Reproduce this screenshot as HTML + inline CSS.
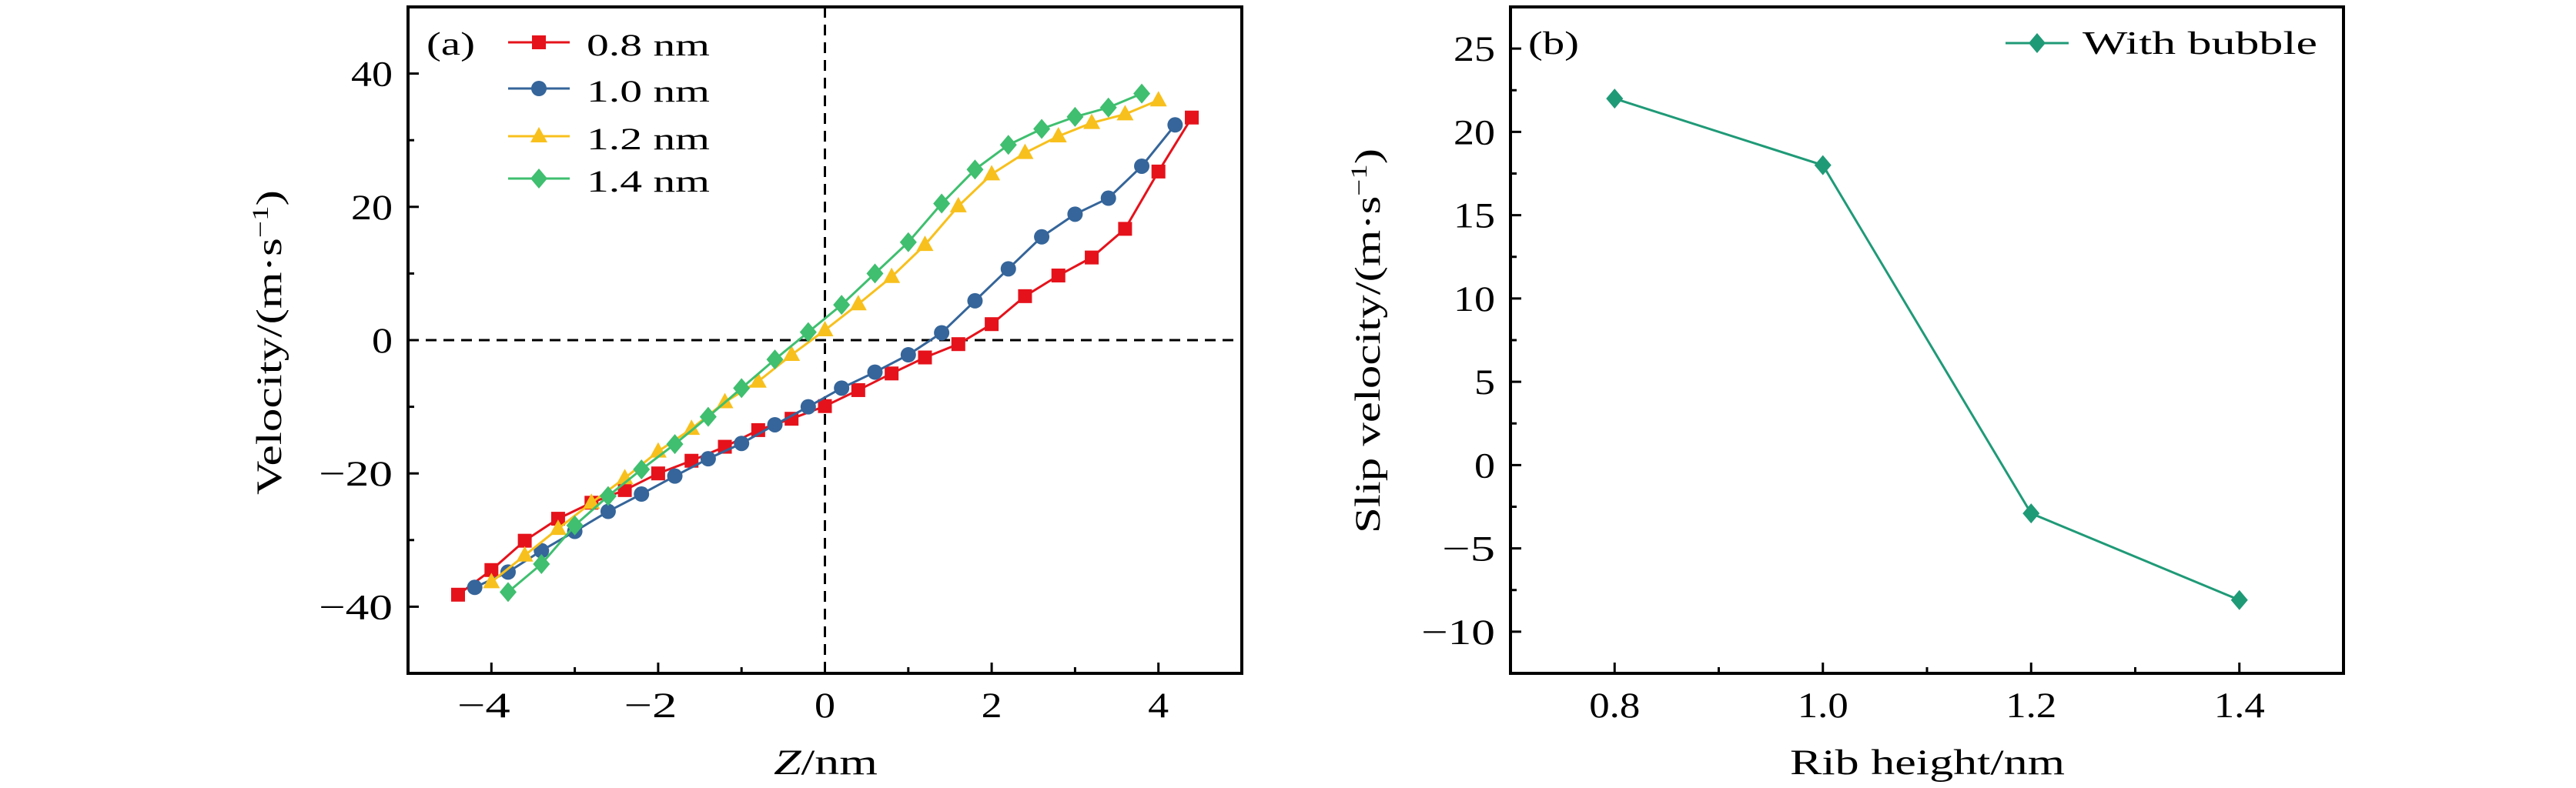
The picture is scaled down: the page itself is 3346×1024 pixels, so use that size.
<!DOCTYPE html>
<html><head><meta charset="utf-8"><style>
html,body{margin:0;padding:0;background:#fff;}
svg{display:block;font-family:"Liberation Serif",serif;}
svg text{font-family:"Liberation Serif",serif;}
</style></head><body>
<svg id="fig" width="3346" height="1024" viewBox="0 0 3346 1024" xmlns="http://www.w3.org/2000/svg">
<rect width="3346" height="1024" fill="#fff"/>
<g id="pa"></g>
<g id="pb"></g>
</svg>
<script>
// Panel (a) data
const zRed = [-4.4,-4.0,-3.6,-3.2,-2.8,-2.4,-2.0,-1.6,-1.2,-0.8,-0.4,0,0.4,0.8,1.2,1.6,2.0,2.4,2.8,3.2,3.6,4.0,4.4];
const vRed = [-38.2,-34.5,-30.1,-26.8,-24.4,-22.5,-20.0,-18.1,-16.0,-13.5,-11.8,-9.9,-7.5,-5.0,-2.6,-0.6,2.4,6.6,9.7,12.4,16.7,25.3,33.4];
const zBlue = [-4.2,-3.8,-3.4,-3.0,-2.6,-2.2,-1.8,-1.4,-1.0,-0.6,-0.2,0.2,0.6,1.0,1.4,1.8,2.2,2.6,3.0,3.4,3.8,4.2];
const vBlue = [-37.1,-34.8,-31.6,-28.7,-25.7,-23.1,-20.4,-17.8,-15.5,-12.7,-10.0,-7.2,-4.8,-2.2,1.1,5.9,10.7,15.5,18.9,21.3,26.1,32.3];
const zYellow = [-4.0,-3.6,-3.2,-2.8,-2.4,-2.0,-1.6,-1.2,-0.8,-0.4,0,0.4,0.8,1.2,1.6,2.0,2.4,2.8,3.2,3.6,4.0];
const vYellow = [-36.3,-32.3,-28.3,-24.4,-20.7,-16.7,-13.3,-9.3,-6.2,-2.2,1.5,5.4,9.5,14.3,20.1,24.9,28.1,30.6,32.6,33.9,36.0];
const zGreen = [-3.8,-3.4,-3.0,-2.6,-2.2,-1.8,-1.4,-1.0,-0.6,-0.2,0.2,0.6,1.0,1.4,1.8,2.2,2.6,3.0,3.4,3.8];
const vGreen = [-37.8,-33.6,-27.8,-23.4,-19.4,-15.6,-11.5,-7.2,-2.9,1.2,5.3,10.0,14.7,20.5,25.6,29.3,31.7,33.5,34.9,37.0];
const seriesNamesA = ["0.8 nm","1.0 nm","1.2 nm","1.4 nm"];
const xTicksA = [-4,-2,0,2,4];
const yTicksA = [-40,-20,0,20,40];
// Panel (b) data
const ribHeights = [0.8,1.0,1.2,1.4];
const slipVel = [22,18,-2.9,-8.1];
const xTicksB = [0.8,1.0,1.2,1.4];
const yTicksB = [-10,-5,0,5,10,15,20,25];

const NS="http://www.w3.org/2000/svg";
function mk(parent,tag,attrs,text){const e=document.createElementNS(NS,tag);for(const k in attrs)e.setAttribute(k,attrs[k]);if(text!==undefined)e.textContent=text;parent.appendChild(e);return e;}
function fmt(v,d){let s=v.toFixed(d);if(v<0)s="\u2212"+(-v).toFixed(d);return s;}
function tw(s){let w=0;for(const c of s){w+= c==="\u2212"?42:(c==="."?12:27);}return w;}
function stretch(e,w){e.setAttribute("textLength",w);e.setAttribute("lengthAdjust","spacingAndGlyphs");}

function marker(g,shape,x,y,color){
  let e;
  if(shape==="square"){e=mk(g,"rect",{x:x-9,y:y-9,width:18,height:18,fill:color});}
  else if(shape==="circle"){e=mk(g,"circle",{cx:x,cy:y,r:10,fill:color});}
  else if(shape==="triangle"){e=mk(g,"polygon",{points:`${x},${y-12} ${x+11},${y+8} ${x-11},${y+8}`,fill:color});}
  else {e=mk(g,"polygon",{points:`${x},${y-13} ${x+11},${y} ${x},${y+13} ${x-11},${y}`,fill:color});}
  return e;
}

function axes(g,L,R,T,B,xmin,xmax,ymin,ymax,xt,yt,xminor,yminor,xd,yd){
  const X=v=>L+(v-xmin)/(xmax-xmin)*(R-L);
  const Y=v=>B-(v-ymin)/(ymax-ymin)*(B-T);
  for(const v of xminor){const t=mk(g,"line",{x1:X(v),x2:X(v),y1:B,y2:B-8,stroke:"#000","stroke-width":3});
    
    }
  for(const v of yminor){const t=mk(g,"line",{x1:L,x2:L+8,y1:Y(v),y2:Y(v),stroke:"#000","stroke-width":3});
    
    }
  for(const v of xt){const t=mk(g,"line",{x1:X(v),x2:X(v),y1:B,y2:B-14,stroke:"#000","stroke-width":3});
    
    
    const s=fmt(v,xd);
    const l=mk(g,"text",{x:X(v)-(v<0?10:0),y:932,"font-size":47,"text-anchor":"middle"},s);
    stretch(l,tw(s));
    
    }
  for(const v of yt){const t=mk(g,"line",{x1:L,x2:L+14,y1:Y(v),y2:Y(v),stroke:"#000","stroke-width":3});
    
    
    const s=fmt(v,yd);
    const l=mk(g,"text",{x:L-20-tw(s),y:Y(v)+16,"font-size":47},s);
    stretch(l,tw(s));
    
    }
  const f=mk(g,"rect",{x:L,y:T,width:R-L,height:B-T,fill:"none",stroke:"#000","stroke-width":4});
  
  
  return {X,Y};
}

// Panel A
(function(){
  const g=document.getElementById("pa");
  const L=530,R=1613,T=9,B=875;
  const xminor=[],yminor=[];
  for(let v=-5;v<=5;v++) if(v%2) xminor.push(v);
  for(let v=-50;v<=50;v+=10) if(v%20) yminor.push(v);
  const {X,Y}=axes(g,L,R,T,B,-5,5,-50,50,xTicksA,yTicksA,xminor,yminor,0,0);
  const d1=mk(g,"line",{x1:X(0),x2:X(0),y1:T,y2:B,stroke:"#000","stroke-width":3,"stroke-dasharray":"14,9"});
  
  
  const d2=mk(g,"line",{x1:L,x2:R,y1:Y(0),y2:Y(0),stroke:"#000","stroke-width":3,"stroke-dasharray":"14,9"});
  
  
  const series=[[zRed,vRed,"#e5121b","square"],[zBlue,vBlue,"#35659a","circle"],[zYellow,vYellow,"#f8c01c","triangle"],[zGreen,vGreen,"#3fbf6f","diamond"]];
  series.forEach((s,i)=>{
    const sg=mk(g,"g",{});
    
    
    const pts=s[0].map((z,k)=>X(z)+","+Y(s[1][k])).join(" ");
    const pl=mk(sg,"polyline",{points:pts,fill:"none",stroke:s[2],"stroke-width":3});
    
    
    s[0].forEach((z,k)=>{const m=marker(sg,s[3],X(z),Y(s[1][k]),s[2]);
      
      });
    const ly=[55,115,177,232][i];
    const lg=mk(g,"g",{});
    
    
    mk(lg,"line",{x1:660,x2:740,y1:ly,y2:ly,stroke:s[2],"stroke-width":3});
    marker(lg,s[3],700,ly,s[2]);
    const t=mk(lg,"text",{x:762,y:ly+17,"font-size":40},seriesNamesA[i]);
    stretch(t,160);
  });
  const pl=mk(g,"text",{x:554,y:71,"font-size":42},"(a)");
  stretch(pl,63);
  
  
  const xl=mk(g,"text",{x:1005,y:1006,"font-size":47});
  stretch(xl,135);
  
  
  mk(xl,"tspan",{"font-style":"italic"},"Z");
  mk(xl,"tspan",{},"/nm");
  const yl=mk(g,"text",{x:-198,y:0,"font-size":47,transform:"translate(365,445) rotate(-90)"});
  stretch(yl,396);
  
  
  mk(yl,"tspan",{},"Velocity/(m·s");
  mk(yl,"tspan",{"font-size":30,dy:-17},"−1");
  mk(yl,"tspan",{dy:17},")");
})();

// Panel B
(function(){
  const g=document.getElementById("pb");
  const L=1962,R=3044,T=9,B=875;
  const xminor=[0.9,1.1,1.3];
  const yminor=[-12.5,-7.5,-2.5,2.5,7.5,12.5,17.5,22.5];
  const {X,Y}=axes(g,L,R,T,B,0.7,1.5,-12.5,27.5,xTicksB,yTicksB,xminor,yminor,1,0);
  const pts=ribHeights.map((h,k)=>X(h)+","+Y(slipVel[k])).join(" ");
  const pl=mk(g,"polyline",{points:pts,fill:"none",stroke:"#1f9a77","stroke-width":3});
  
  
  ribHeights.forEach((h,k)=>{const m=marker(g,"diamond",X(h),Y(slipVel[k]),"#1f9a77");
    
    });
  const lg=mk(g,"g",{});
  
  
  mk(lg,"line",{x1:2605,x2:2687,y1:56,y2:56,stroke:"#1f9a77","stroke-width":3});
  marker(lg,"diamond",2646,56,"#1f9a77");
  const lt=mk(lg,"text",{x:2705,y:70,"font-size":42},"With bubble");
  stretch(lt,305);
  const pb=mk(g,"text",{x:1985,y:70,"font-size":42},"(b)");
  stretch(pb,66);
  
  
  const xl=mk(g,"text",{x:2325,y:1006,"font-size":47},"Rib height/nm");
  stretch(xl,357);
  
  
  const yl=mk(g,"text",{x:-250,y:0,"font-size":47,transform:"translate(1792,443) rotate(-90)"});
  stretch(yl,500);
  
  
  mk(yl,"tspan",{},"Slip velocity/(m·s");
  mk(yl,"tspan",{"font-size":30,dy:-17},"−1");
  mk(yl,"tspan",{dy:17},")");
})();
</script>
</body></html>
